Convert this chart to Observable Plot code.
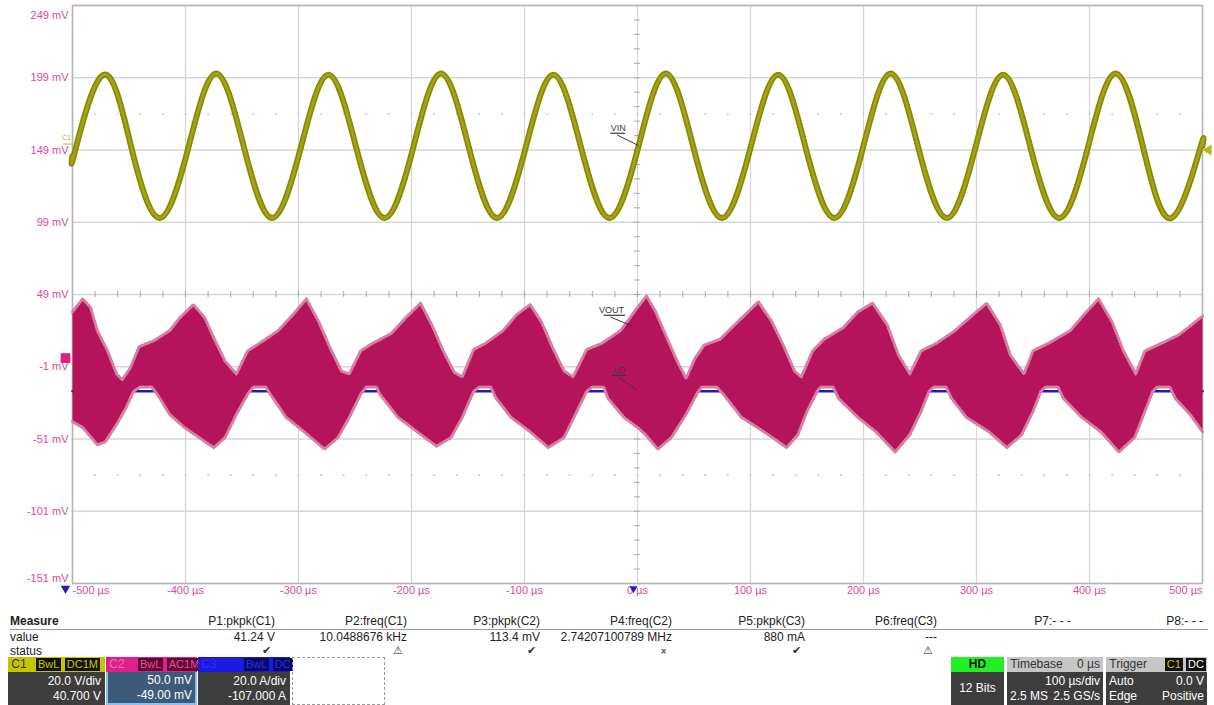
<!DOCTYPE html>
<html>
<head>
<meta charset="utf-8">
<script src="https://cdn.jsdelivr.net/npm/d3@7"></script>
<script src="https://cdn.jsdelivr.net/npm/@observablehq/plot@0.6"></script>
<style>
  html, body { margin: 0; padding: 0; background: #fff; width: 1214px; height: 705px; overflow: hidden; }
  body { font-family: "Liberation Sans", Arial, sans-serif; position: relative; }
  #chart { position: absolute; left: 0; top: 0; }
  #panel { position: absolute; left: 0; top: 600px; width: 1214px; height: 105px; font-size: 12px; color: #222; }
  .abs { position: absolute; white-space: nowrap; }
  .r { text-align: right; }
  .box { position: absolute; top: 57px; height: 48px; }
  .hdr { height: 15px; line-height: 15px; font-size: 12px; position: relative; }
  .body { position: absolute; top: 15px; left: 0; right: 0; bottom: 0; background: #3d3d3d; color: #fff; font-size: 12px; }
  .tag { display: inline-block; background: #111; padding: 0 2px; height: 13px; line-height: 13px; margin-top: 1px; font-size: 11px; }
</style>
</head>
<body>
<div id="chart"></div>
<div id="panel"></div>
<script>
// ---------- data ----------
const yTicks = [249, 199, 149, 99, 49, -1, -51, -101, -151];
const xTicks = [-500, -400, -300, -200, -100, 0, 100, 200, 300, 400, 500];

// C1 (VIN) key points: time (µs) and level (mV)
const c1Time = [-500, -497.5, -472.6, -447.7, -423, -398, -373, -348, -323.5, -298.5, -273.6, -248.7, -224, -199, -174, -149, -124.4, -99.5, -74.6, -49.7, -25, 0, 24.9, 49.7, 74.6, 99.5, 124.4, 149, 174, 199, 223.9, 248.7, 273.7, 298.5, 323.4, 348, 373, 398, 422.9, 447.7, 472.6, 497.5, 500];
const c1Level = [145, 149, 201, 150, 102, 149, 202, 150, 102, 149, 201, 150, 102, 149, 202, 150, 102, 149, 201, 150, 102, 149, 202, 150, 102, 149, 201, 150, 102, 149, 202, 150, 102, 149, 201, 150, 102, 149, 202, 150, 102, 149, 152];

// C2 (VOUT) envelope: upper edge
const c2UpperTime = [-500, -491, -484, -478, -469, -461, -456, -449, -441, -428, -414, -405, -393, -383, -375, -365, -355, -345, -335, -318, -305, -293, -282, -272, -262, -255, -245, -235, -218, -205, -192, -182, -172, -162, -155, -145, -135, -119, -107, -95, -85, -75, -65, -57, -45, -32, -15, 0, 8, 16, 26, 35, 43, 51, 59, 73, 86, 107, 119, 129, 139, 145, 155, 165, 182, 195, 208, 221, 231, 241, 251, 264, 281, 294, 309, 321, 330, 342, 350, 363, 383, 395, 408, 420, 430, 441, 449, 463, 479, 500];
const c2UpperLevel = [37, 46, 40, 24, 10, -6, -10, -2, 13, 17, 24, 33, 42, 33, 19, 3, -6, 10, 15, 24, 35, 46, 30, 12, -4, -6, 10, 15, 22, 33, 43, 28, 10, -5, -8, 11, 15, 24, 35, 42, 30, 12, -4, -8, 11, 15, 24, 40, 48, 37, 19, 3, -9, 5, 14, 18, 28, 44, 30, 14, -4, -8, 10, 18, 26, 37, 43, 28, 7, -6, 10, 15, 24, 33, 43, 28, 7, -6, 10, 15, 24, 35, 46, 30, 10, -6, 10, 15, 21, 34];
// C2 envelope: lower edge
const c2LowerTime = [-500, -491, -478, -471, -461, -453, -446, -440, -430, -425, -414, -401, -388, -375, -365, -355, -345, -340, -329, -325, -311, -295, -277, -265, -255, -245, -240, -231, -228, -212, -195, -178, -165, -155, -145, -140, -130, -125, -112, -95, -79, -65, -55, -45, -40, -30, -26, -12, 0, 7, 18, 30, 43, 53, 57, 70, 76, 92, 112, 132, 142, 150, 159, 162, 173, 178, 195, 211, 228, 241, 251, 258, 262, 273, 278, 291, 311, 327, 340, 350, 357, 361, 372, 377, 393, 410, 426, 440, 449, 456, 460, 471, 476, 489, 500];
const c2LowerLevel = [-39, -43, -55, -53, -41, -30, -18, -15, -15, -20, -34, -43, -50, -57, -50, -34, -20, -15, -15, -20, -36, -46, -58, -50, -36, -20, -15, -15, -20, -36, -46, -56, -50, -36, -18, -15, -15, -23, -36, -46, -57, -50, -34, -18, -15, -15, -23, -36, -43, -48, -58, -50, -34, -19, -15, -15, -20, -36, -46, -57, -48, -32, -18, -15, -15, -23, -36, -46, -60, -48, -32, -18, -15, -15, -23, -36, -46, -57, -48, -32, -18, -15, -15, -23, -36, -46, -60, -50, -32, -18, -15, -15, -23, -34, -46];

// C3 (LO) level, mV on screen
const c3Time = [-500, 500];
const c3Level = [-18, -18];

// trace annotations
const annoText = ["VIN", "VOUT", "LO"];
const annoT = [-17, -23, -16];
const annoV = [164, 38, -3.5];

// ---------- build tables ----------
const c1 = c1Time.map((t, i) => ({t, v: c1Level[i]}));
const up = c2UpperTime.map((t, i) => ({t, v: c2UpperLevel[i]}));
const lo = c2LowerTime.map((t, i) => ({t, v: c2LowerLevel[i]}));
const c2Poly = up.concat(lo.slice().reverse());
const c3 = c3Time.map((t, i) => ({t, v: c3Level[i]}));
const annos = annoText.map((s, i) => ({s, t: annoT[i], v: annoV[i]}));
const minorX = d3.range(-500, 501, 20);
const minorY = d3.range(-151, 250, 10);

const PINK = "#e0489c";
const GRID = "#d6d6d6";

const plot = Plot.plot({
  width: 1214,
  height: 600,
  marginLeft: 72,
  marginRight: 12,
  marginTop: 5,
  marginBottom: 17,
  x: {type: "linear", domain: [-500, 500], axis: null},
  y: {type: "linear", domain: [-151, 249], axis: null},
  style: {fontFamily: "'Liberation Sans', Arial, sans-serif", background: "#fff"},
  marks: [
    // grid
    Plot.ruleX(xTicks, {x: d => d, stroke: GRID, strokeWidth: 1.3}),
    Plot.ruleY(yTicks, {y: d => d, stroke: GRID, strokeWidth: 1.3}),
    // dotted rows
    Plot.dot(minorX, {x: d => d, y: 174, r: 0.9, fill: "#c4c4c4", stroke: null}),
    Plot.dot(minorX, {x: d => d, y: -76, r: 0.9, fill: "#c4c4c4", stroke: null}),
    // center crosshair minor ticks
    Plot.ruleX(minorX, {x: d => d, y1: 46.9, y2: 51.1, stroke: "#a8a8a8", strokeWidth: 1}),
    Plot.ruleY(minorY, {y: d => d, x1: -2.6, x2: 2.6, stroke: "#a8a8a8", strokeWidth: 1}),
    Plot.frame({stroke: "#b4b4b4", strokeWidth: 1.5}),
    // C3 blue trace
    Plot.line(c3, {x: "t", y: "v", stroke: "#1c20a8", strokeWidth: 2.5}),
    // C2 band
    Plot.line(c2Poly, {x: "t", y: "v", fill: "#b6145a", stroke: "none", curve: "linear"}),
    Plot.line(up, {x: "t", y: "v", stroke: "#d67fa4", strokeWidth: 3, strokeDasharray: "1.2,1.8", curve: "linear"}),
    Plot.line(lo, {x: "t", y: "v", stroke: "#d67fa4", strokeWidth: 3, strokeDasharray: "1.2,1.8", curve: "linear"}),
    // C1 trace
    Plot.line(c1, {x: "t", y: "v", stroke: "#8a8a00", strokeWidth: 6, curve: "natural"}),
    Plot.line(c1, {x: "t", y: "v", stroke: "#a3a31c", strokeWidth: 2.5, curve: "natural"}),
    // annotations
    Plot.text(annos, {x: "t", y: "v", text: "s", fill: "#3a3a3a", fontSize: 9}),
    Plot.link(annos, {x1: d => d.t - 7, x2: d => d.t + 6 + (d.s === "VOUT" ? 6 : 0), y1: d => d.v - 3.4, y2: d => d.v - 3.4, stroke: "#3a3a3a", strokeWidth: 1.2}),
    Plot.link(annos, {x1: d => d.t - 1, y1: d => d.v - 4.6, x2: d => d.s === "VIN" ? 1 : d.s === "VOUT" ? -4 : 0, y2: d => d.s === "VIN" ? 152 : d.s === "VOUT" ? 27 : -17.5, stroke: "#3a3a3a", strokeWidth: 1}),
    // y labels
    Plot.text(yTicks.slice(1, -1), {x: -500, y: d => d, text: d => `${d} mV`, textAnchor: "end", dx: -4, fill: PINK, fontSize: 11}),
    Plot.text([yTicks[0]], {x: -500, y: d => d, text: d => `${d} mV`, textAnchor: "end", dx: -4, dy: 10, fill: PINK, fontSize: 11}),
    Plot.text([yTicks[yTicks.length - 1]], {x: -500, y: d => d, text: d => `${d} mV`, textAnchor: "end", dx: -4, dy: -5, fill: PINK, fontSize: 11}),
    // x labels
    Plot.text([xTicks[0]], {x: d => d, frameAnchor: "bottom", dy: 10, text: d => `${d} µs`, textAnchor: "start", fill: PINK, fontSize: 11}),
    Plot.text(xTicks.slice(1, -1), {x: d => d, frameAnchor: "bottom", dy: 10, text: d => `${d} µs`, textAnchor: "middle", fill: PINK, fontSize: 11}),
    Plot.text([xTicks[xTicks.length - 1]], {x: d => d, frameAnchor: "bottom", dy: 10, text: d => `${d} µs`, textAnchor: "end", fill: PINK, fontSize: 11}),
    // channel markers
    Plot.text(["C1"], {x: -500, y: 149, text: d => d, dx: -6, dy: -12, fill: "#b0b030", fontSize: 7}),
    Plot.ruleY([149], {y: d => d, x1: -508, x2: -500, dy: -6, stroke: "#b0b030", strokeWidth: 1, clip: false}),
    Plot.dot([5], {x: -500, y: d => d, symbol: "square", r: 5.5, dx: -7, fill: "#e0207f", stroke: null}),
    Plot.dot([0], {x: -500, y: -151, symbol: "triangle", rotate: 180, r: 3.5, dx: -7, dy: 5, fill: "#2020c0", stroke: null}),
    Plot.dot([0], {x: 500, y: 149, symbol: "triangle", rotate: -90, r: 4, dx: 6, fill: "#b8b820", stroke: null}),
    Plot.dot([0], {x: 0, y: -151, symbol: "triangle", rotate: 180, r: 3, dx: -4, dy: 5, fill: "#2020c0", stroke: null})
  ]
});
document.getElementById("chart").appendChild(plot);

// ---------- measurement panel ----------
const mHeaders = ["P1:pkpk(C1)", "P2:freq(C1)", "P3:pkpk(C2)", "P4:freq(C2)", "P5:pkpk(C3)", "P6:freq(C3)", "P7:- - -", "P8:- - -"];
const mValues = ["41.24 V", "10.0488676 kHz", "113.4 mV", "2.74207100789 MHz", "880 mA", "---", "", ""];
const mStatus = ["✔", "⚠", "✔", "⌅", "✔", "⚠", "", ""];
const mRight = [275, 407, 540, 672, 805, 937, 1071, 1203];

const panel = document.getElementById("panel");
let html = "";
html += `<div class="abs" style="left:10px;top:14px;font-weight:bold;">Measure</div>`;
html += `<div class="abs" style="left:10px;top:29px;width:1198px;height:1px;background:#9a9a9a;"></div>`;
html += `<div class="abs" style="left:10px;top:30px;">value</div>`;
html += `<div class="abs" style="left:10px;top:44px;">status</div>`;
mHeaders.forEach((h, i) => {
  html += `<div class="abs r" style="right:${1214 - mRight[i]}px;top:14px;">${h}</div>`;
  html += `<div class="abs r" style="right:${1214 - mRight[i]}px;top:30px;">${mValues[i]}</div>`;
  html += `<div class="abs r" style="right:${1214 - mRight[i] + 4}px;top:44px;font-size:11px;color:#333;">${mStatus[i]}</div>`;
});
// channel boxes
html += `<div class="box" style="left:8px;width:97px;">
  <div class="hdr" style="background:#c4c400;color:#333;">&nbsp;C1
    <span class="abs" style="left:28px;top:0"><span class="tag" style="color:#c8c800">BwL</span> <span class="tag" style="color:#c8c800">DC1M</span></span></div>
  <div class="body"><div class="abs r" style="right:4px;top:2px;">20.0 V/div</div><div class="abs r" style="right:4px;top:17px;">40.700 V</div></div></div>`;
html += `<div class="box" style="left:106px;width:91px;">
  <div class="hdr" style="background:#e0208a;color:#f070b0;">&nbsp;C2
    <span class="abs" style="left:32px;top:0"><span class="tag" style="background:#5a0a34;color:#f04a9a">BwL</span> <span class="tag" style="background:#5a0a34;color:#f04a9a">AC1M</span></span></div>
  <div class="body" style="background:#3d5b78;border:2px solid #8cc0ee;border-top:none;"><div class="abs r" style="right:3px;top:1px;">50.0 mV</div><div class="abs r" style="right:3px;top:16px;">-49.00 mV</div></div></div>`;
html += `<div class="box" style="left:198px;width:92px;">
  <div class="hdr" style="background:#1a1ae0;color:#3030f0;">&nbsp;C3
    <span class="abs" style="left:46px;top:0"><span class="tag" style="background:#0a0a60;color:#2a2af0">BwL</span> <span class="tag" style="background:#0a0a60;color:#2a2af0">DC</span></span></div>
  <div class="body"><div class="abs r" style="right:4px;top:2px;">20.0 A/div</div><div class="abs r" style="right:4px;top:17px;">-107.000 A</div></div></div>`;
html += `<div class="box" style="left:292px;width:91px;height:46px;border:1px dashed #9a9a9a;"></div>`;
html += `<div class="box" style="left:951px;width:53px;">
  <div class="hdr" style="background:#24ee24;color:#111;text-align:center;font-weight:bold;">HD</div>
  <div class="body"><div class="abs" style="left:0;right:0;top:9px;text-align:center;">12 Bits</div></div></div>`;
html += `<div class="box" style="left:1007px;width:96px;">
  <div class="hdr" style="background:#c6c6c6;color:#333;">&nbsp;Timebase<span class="abs" style="right:3px;top:0">0 µs</span></div>
  <div class="body"><div class="abs r" style="right:3px;top:2px;">100 µs/div</div><div class="abs" style="left:3px;top:17px;">2.5 MS</div><div class="abs r" style="right:3px;top:17px;">2.5 GS/s</div></div></div>`;
html += `<div class="box" style="left:1106px;width:101px;">
  <div class="hdr" style="background:#c6c6c6;color:#333;">&nbsp;Trigger<span class="abs" style="right:1px;top:0"><span class="tag" style="color:#c8c800">C1</span> <span class="tag" style="color:#fff">DC</span></span></div>
  <div class="body"><div class="abs" style="left:3px;top:2px;">Auto</div><div class="abs r" style="right:3px;top:2px;">0.0 V</div><div class="abs" style="left:3px;top:17px;">Edge</div><div class="abs r" style="right:3px;top:17px;">Positive</div></div></div>`;
panel.innerHTML = html;
</script>
</body>
</html>
